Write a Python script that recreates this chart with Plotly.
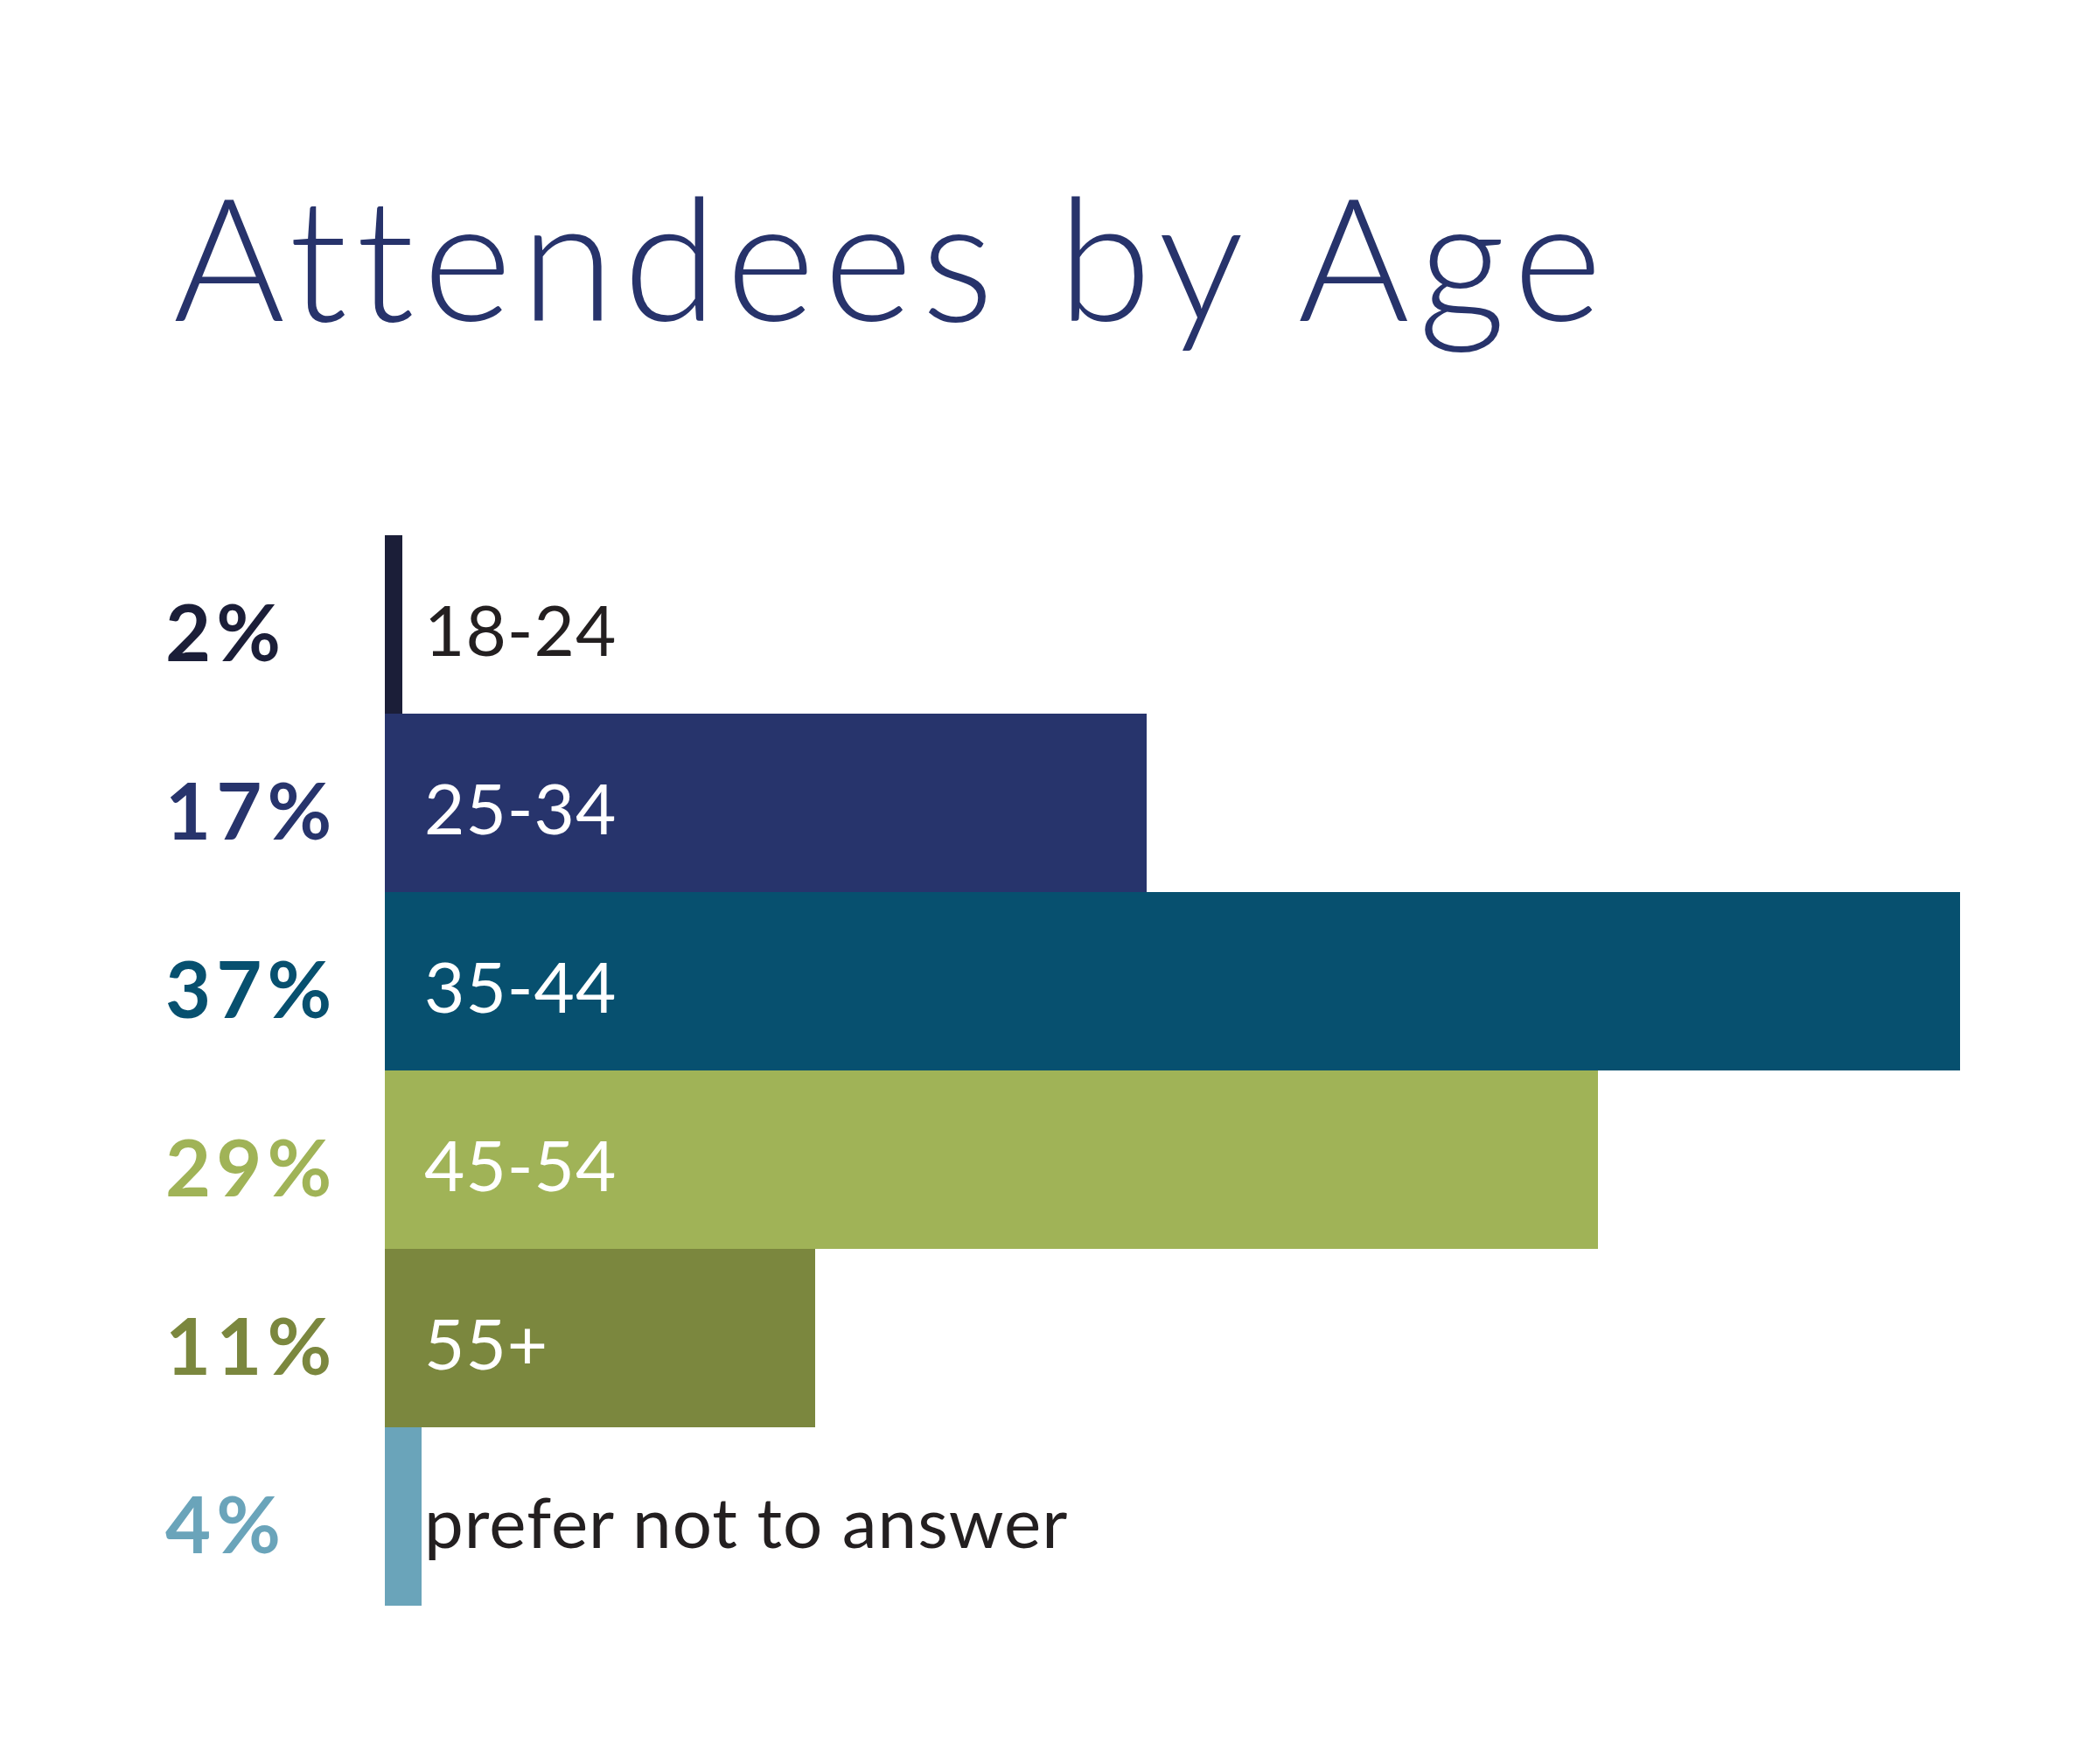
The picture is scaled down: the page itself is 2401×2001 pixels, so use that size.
import plotly.graph_objects as go

# Data
categories = ["18-24", "25-34", "35-44", "45-54", "55+", "prefer not to answer"]
pct_labels = ["2%", "17%", "37%", "29%", "11%", "4%"]
# bar lengths as drawn in the picture (in % units, 35-44 bar = 37)
bar_lengths = [0.41, 17.9, 37.0, 28.5, 10.1, 0.86]
bar_colors = ["#1B1E38", "#27346C", "#07506F", "#A0B357", "#7B873E", "#6AA4BA"]
cat_label_colors = ["#231F20", "#FFFFFF", "#FFFFFF", "#FFFFFF", "#FFFFFF", "#231F20"]

W, H = 2401, 2001
OFF = 8  # page body margin
L, T = 440 - OFF, 612 - OFF
PW, PH = 1801, 1224
R, B = W - L - PW, H - T - PH


def px_to_paper_x(px):
    return (px - OFF - L) / PW


def px_to_paper_y(py):
    return 1 + (T - (py - OFF)) / PH


fig = go.Figure(
    go.Bar(
        y=categories,
        x=bar_lengths,
        orientation="h",
        marker=dict(color=bar_colors, line=dict(width=0)),
        hoverinfo="skip",
    )
)

for cat, pct, col in zip(categories, pct_labels, bar_colors):
    fig.add_annotation(
        x=px_to_paper_x(187), xref="paper", xanchor="left",
        y=cat, yref="y", yanchor="middle", yshift=-7,
        text=f'<span style="letter-spacing:6px">{pct}</span>', showarrow=False,
        font=dict(family="Lato", size=90, color=col, weight="bold"),
    )

for cat, tcol in zip(categories, cat_label_colors):
    fig.add_annotation(
        x=px_to_paper_x(483), xref="paper", xanchor="left",
        y=cat, yref="y", yanchor="middle", yshift=-5,
        text=f'<span style="letter-spacing:1px">{cat}</span>', showarrow=False,
        font=dict(family="Lato", size=80, color=tcol),
    )

fig.add_annotation(
    x=px_to_paper_x(196), xref="paper", xanchor="left",
    y=px_to_paper_y(292), yref="paper", yanchor="middle",
    text='<span style="letter-spacing:10px">Attendees by Age</span>', showarrow=False,
    font=dict(family="Lato", size=195, color="#27336B", weight=300),
)

fig.update_layout(
    width=W, height=H,
    margin=dict(l=L, r=R, t=T, b=B, pad=0),
    paper_bgcolor="white", plot_bgcolor="white",
    bargap=0, showlegend=False,
    xaxis=dict(range=[0, 37], visible=False, fixedrange=True),
    yaxis=dict(autorange="reversed", visible=False, fixedrange=True),
)

fig.write_html("out.html")
